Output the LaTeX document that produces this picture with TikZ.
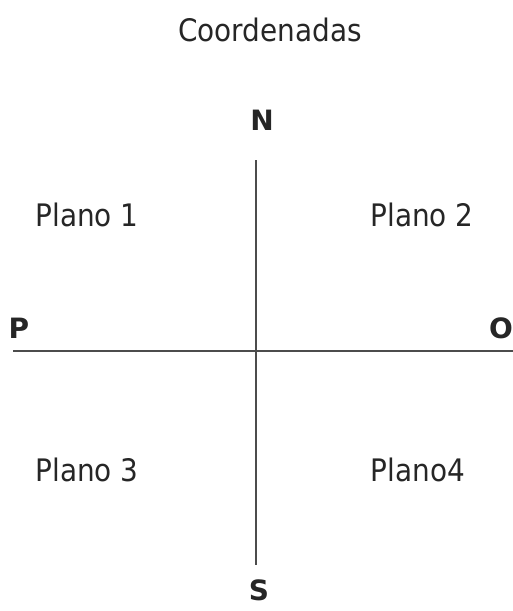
\documentclass[tikz,border=0pt]{standalone}
\usepackage{fontspec}
\setmainfont{DejaVu Sans Condensed}
\newfontfamily\dirfont{DejaVu Sans}
\begin{document}
\begin{tikzpicture}[x=1pt,y=-1pt,
  lbl/.style={inner sep=0pt,anchor=center,font=\fontsize{31}{36}\selectfont,text=black!85},
  dir/.style={inner sep=0pt,anchor=center,font=\dirfont\fontsize{28}{34}\selectfont\bfseries,text=black!85},
  axis/.style={line width=1.8pt,draw=black!70}]
\useasboundingbox (0,0) rectangle (513,611);
\node[lbl] (title) at (270,30) {Coordenadas};
\node[dir] (n) at (262,120) {N};
\node[dir] (s) at (259,590) {S};
\node[dir] (p) at (19,328) {P};
\node[dir,anchor=east] (o) at (513,328) {O};
\node[lbl] (p1) at (87,215) {Plano 1};
\node[lbl] (p2) at (422,215) {Plano 2};
\node[lbl] (p3) at (87,470) {Plano 3};
\node[lbl] (p4) at (418,470) {Plano4};
\coordinate (w) at (13,351);
\coordinate (e) at (513,351);
\coordinate (top) at (256,160);
\coordinate (bot) at (256,565);
\draw[axis] (w) -- (e);
\draw[axis] (top) -- (bot);
\end{tikzpicture}
\end{document}
